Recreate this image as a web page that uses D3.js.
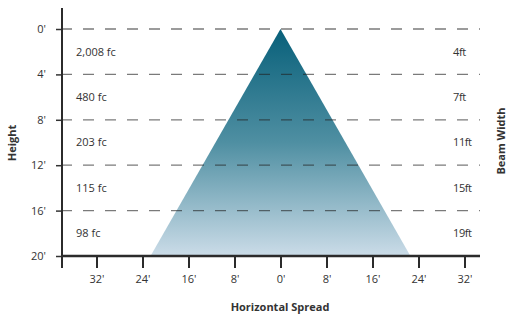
<!DOCTYPE html>
<html>
<head>
<meta charset="utf-8">
<script src="https://cdn.jsdelivr.net/npm/d3@7"></script>
<style>
  body { margin: 0; background: #fff; }
  text { font-family: 'Open Sans', Lato, sans-serif; fill: #333; }
</style>
</head>
<body>
<script>
// Data
var heightTicks = [0, 4, 8, 12, 16, 20]
var spreadTicks = [-32, -24, -16, -8, 0, 8, 16, 24, 32]
var footCandles = ['2,008 fc', '480 fc', '203 fc', '115 fc', '98 fc']
var beamWidths = ['4ft', '7ft', '11ft', '15ft', '19ft']
var beamCone = [[0, 0], [-22.6, 20], [22.6, 20]]

var w = 508, h = 318
var svg = d3.select('body').append('svg')
    .attr('width', w)
    .attr('height', h)

// Scales
var xScale = d3.scaleLinear().domain([-38, 34.7]).range([62, 480])
var yScale = d3.scaleLinear().domain([0, 20]).range([29, 256])

// Gradient
var grad = svg.append('defs').append('linearGradient')
    .attr('id', 'cone')
    .attr('x1', 0).attr('y1', 0).attr('x2', 0).attr('y2', 1)
grad.append('stop').attr('offset', '0%').attr('stop-color', '#08607a')
grad.append('stop').attr('offset', '50%').attr('stop-color', '#4f8fa2')
grad.append('stop').attr('offset', '100%').attr('stop-color', '#cbdce8')

// Cone
svg.append('path')
    .datum(beamCone)
    .attr('d', d3.line().x(function (d) { return xScale(d[0]) }).y(function (d) { return yScale(d[1]) }).curve(d3.curveLinearClosed))
    .attr('fill', 'url(#cone)')

// Dashed grid lines
svg.selectAll('.grid')
    .data(heightTicks.slice(0, 5))
    .enter()
  .append('line')
    .attr('class', 'grid')
    .attr('x1', 62)
    .attr('x2', 480)
    .attr('y1', function (d) { return yScale(d) })
    .attr('y2', function (d) { return yScale(d) })
    .attr('stroke', '#222')
    .attr('stroke-opacity', 0.6)
    .attr('stroke-width', 1.3)
    .attr('stroke-dasharray', '11,11')
    .attr('stroke-dashoffset', 1)

// Y-axis
var yAxis = d3.axisLeft(yScale)
    .tickValues(heightTicks)
    .tickSize(6)
    .tickPadding(10)
    .tickFormat(function (d) { return d + "'" })
var gy = svg.append('g')
    .attr('transform', 'translate(62,0)')
    .call(yAxis)
gy.select('.domain').remove()
gy.selectAll('.tick line').attr('stroke', '#333').attr('stroke-width', 1.5)
gy.selectAll('.tick text').style('font-size', '11px').attr('fill', '#333')
svg.append('line')
    .attr('x1', 62).attr('x2', 62)
    .attr('y1', 8).attr('y2', 268)
    .attr('stroke', '#2b2b2b')
    .attr('stroke-width', 2)

// X-axis
var xAxis = d3.axisBottom(xScale)
    .tickValues(spreadTicks)
    .tickSize(12)
    .tickPadding(7)
    .tickFormat(function (d) { return Math.abs(d) + "'" })
var gx = svg.append('g')
    .attr('transform', 'translate(0,256)')
    .call(xAxis)
gx.select('.domain').remove()
gx.selectAll('.tick line').attr('stroke', '#2b2b2b').attr('stroke-width', 2)
gx.selectAll('.tick text').style('font-size', '11px').attr('fill', '#333')
svg.append('line')
    .attr('x1', 61).attr('x2', 480)
    .attr('y1', 256).attr('y2', 256)
    .attr('stroke', '#2b2b2b')
    .attr('stroke-width', 2.5)

// Foot-candle labels
svg.selectAll('.fc')
    .data(footCandles)
    .enter()
  .append('text')
    .attr('class', 'fc')
    .attr('x', 76)
    .attr('y', function (d, i) { return (yScale(heightTicks[i]) + yScale(heightTicks[i + 1])) / 2 })
    .attr('dy', '0.35em')
    .style('font-size', '11px')
    .text(function (d) { return d })

// Beam width labels
svg.selectAll('.bw')
    .data(beamWidths)
    .enter()
  .append('text')
    .attr('class', 'bw')
    .attr('x', 453)
    .attr('y', function (d, i) { return (yScale(heightTicks[i]) + yScale(heightTicks[i + 1])) / 2 })
    .attr('dy', '0.35em')
    .style('font-size', '11px')
    .style('letter-spacing', '-0.4px')
    .text(function (d) { return d })

// Axis titles
svg.append('text')
    .attr('transform', 'translate(16,143) rotate(-90)')
    .style('text-anchor', 'middle')
    .style('font-size', '11px')
    .style('font-weight', 'bold')
    .text('Height')
svg.append('text')
    .attr('transform', 'translate(505,141) rotate(-90)')
    .style('text-anchor', 'middle')
    .style('font-size', '11px')
    .style('font-weight', 'bold')
    .text('Beam Width')
svg.append('text')
    .attr('x', 280)
    .attr('y', 311)
    .style('text-anchor', 'middle')
    .style('font-size', '11px')
    .style('font-weight', 'bold')
    .text('Horizontal Spread')
</script>
</body>
</html>
